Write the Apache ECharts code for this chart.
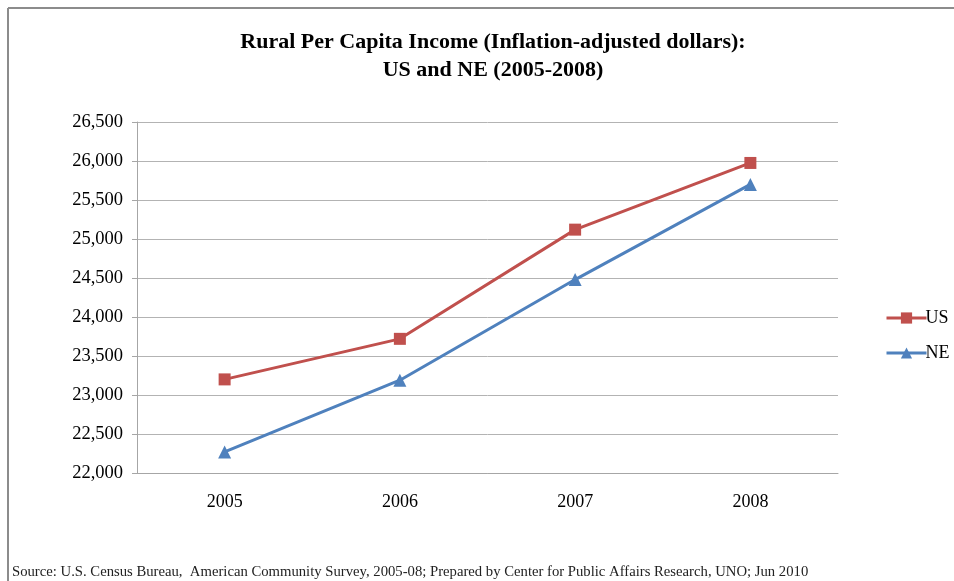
<!DOCTYPE html>
<html>
<head>
<meta charset="utf-8">
<script src="https://cdn.jsdelivr.net/npm/echarts@6/dist/echarts.min.js"></script>
<style>html,body{margin:0;padding:0;background:#fff}#c{width:954px;height:581px}</style>
</head>
<body>
<div id="c"></div>
<script>
const categories = ['2005', '2006', '2007', '2008'];
const usValues = [23200, 23720, 25120, 25975];
const neValues = [22270, 23190, 24480, 25700];
const yTicks = [22000, 22500, 23000, 23500, 24000, 24500, 25000, 25500, 26000, 26500];
const titleLines = ['Rural Per Capita Income (Inflation-adjusted dollars):', 'US and NE (2005-2008)'];
const sourceText = 'Source: U.S. Census Bureau,  American Community Survey, 2005-08; Prepared by Center for Public Affairs Research, UNO; Jun 2010';

const serif = '"Liberation Serif", "Times New Roman", serif';
const chart = echarts.init(document.getElementById('c'));
chart.setOption({
  animation: false,
  backgroundColor: '#fff',
  title: {
    text: titleLines.join('\n'),
    left: 488, top: 23, textAlign: 'center',
    textStyle: { fontFamily: serif, fontWeight: 'bold', fontSize: 22, color: '#000', lineHeight: 28 }
  },
  graphic: [
    { type: 'line', shape: { x1: 8, y1: 8, x2: 954, y2: 8 }, style: { stroke: '#8c8c8c', lineWidth: 2 } },
    { type: 'line', shape: { x1: 8, y1: 8, x2: 8, y2: 581 }, style: { stroke: '#8c8c8c', lineWidth: 2 } },
    { type: 'text', left: 12, top: 565, style: { text: sourceText, font: '14.7px ' + serif, fill: '#222' } }
  ],
  legend: {
    orient: 'vertical', left: 880, top: 304, itemWidth: 40, itemHeight: 14, itemGap: 17,
    lineStyle: { width: 3 },
    textStyle: { fontFamily: serif, fontSize: 18, color: '#000', padding: [0, 0, 0, -6] },
    data: ['US', 'NE']
  },
  grid: { left: 137, right: 116, top: 122, bottom: 108 },
  xAxis: {
    type: 'category', data: categories, boundaryGap: true,
    axisLine: { lineStyle: { color: '#a6a6a6', width: 1 } },
    axisTick: { alignWithLabel: true, length: 5, lineStyle: { color: '#a6a6a6' } },
    axisLabel: { fontFamily: serif, fontSize: 18, color: '#000', margin: 20 }
  },
  yAxis: {
    type: 'value', min: yTicks[0], max: yTicks[yTicks.length - 1], interval: 500,
    axisLine: { show: true, lineStyle: { color: '#a6a6a6' } },
    axisTick: { show: true, length: 5, lineStyle: { color: '#a6a6a6' } },
    splitLine: { lineStyle: { color: '#b3b3b3', width: 1 } },
    axisLabel: { fontFamily: serif, fontSize: 18.5, color: '#000', margin: 14,
      formatter: v => v.toLocaleString('en-US') }
  },
  series: [
    { name: 'US', type: 'line', data: usValues, symbol: 'rect', symbolSize: 12,
      itemStyle: { color: '#C0504D' }, lineStyle: { color: '#C0504D', width: 3 } },
    { name: 'NE', type: 'line', data: neValues, symbol: 'triangle', symbolSize: 13,
      itemStyle: { color: '#4F81BD' }, lineStyle: { color: '#4F81BD', width: 3 } }
  ]
});
</script>
</body>
</html>
